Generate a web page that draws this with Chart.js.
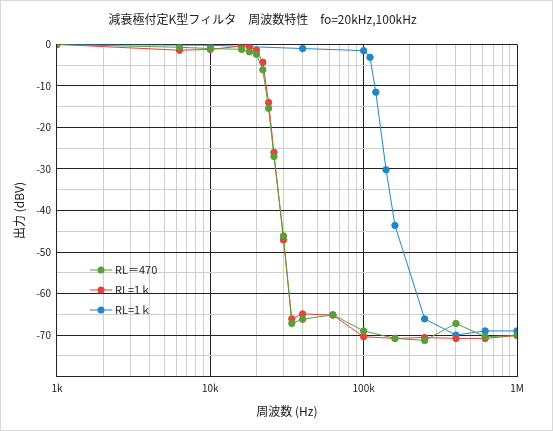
<!DOCTYPE html>
<html><head><meta charset="utf-8">
<script src="https://cdn.jsdelivr.net/npm/chart.js@4"></script>
<style>body{margin:0;background:#fff}canvas{display:block}</style>
</head><body><canvas id="c" width="553" height="431"></canvas>
<script>
const freqG=[1000,6300,10000,16000,18000,20000,22000,24000,26000,30000,34000,40000,63000,100000,160000,250000,400000,620000,1000000];
const valG=[0,-0.7,-1,-1.2,-1.8,-2.4,-6.1,-15.4,-27,-46.1,-67.2,-66.2,-65.1,-69,-70.8,-71.3,-67.2,-70.4,-70.1];
const freqR=freqG;
const valR=[0,-1.4,-1.2,-0.4,-0.6,-1.4,-4.3,-14,-26,-47.1,-66.1,-64.9,-65.2,-70.4,-70.8,-70.6,-70.8,-70.8,-70.1];
const freqB=[1000,10000,40000,100000,110000,120000,140000,160000,250000,400000,620000,1000000];
const valB=[0,-0.2,-1,-1.5,-3.1,-11.5,-30.2,-43.6,-66.1,-70,-69,-69];
const labels=['RL＝470','RL=1ｋ','RL=1ｋ'];
const colors=['#5a9e3a','#e8403a','#1f86c8'];
const xTickLabels={1000:'1k',10000:'10k',100000:'100k',1000000:'1M'};
const mk=(f,v)=>f.map((x,i)=>({x:x,y:v[i]}));
const F='"Noto Sans CJK JP", "Noto Sans", sans-serif';
const legendPlugin={id:'lg',afterDraw(ch){const c=ch.ctx;c.save();
 c.strokeStyle='#d9d9d9';c.lineWidth=1;c.strokeRect(0.5,0.5,552,430);
 c.font='11px '+F;c.textBaseline='middle';
 ch.data.datasets.forEach((d,i)=>{const y=270+i*20;c.strokeStyle=d.borderColor;c.lineWidth=1;c.beginPath();c.moveTo(90,y);c.lineTo(112,y);c.stroke();
 c.fillStyle=d.borderColor;c.beginPath();c.arc(101,y,3.5,0,Math.PI*2);c.fill();c.fillStyle='#222';c.fillText(d.label,115,y);});c.restore();}};
new Chart(document.getElementById('c'),{type:'line',
data:{datasets:[0,1,2].map(i=>({label:labels[i],data:[mk(freqG,valG),mk(freqR,valR),mk(freqB,valB)][i],borderColor:colors[i],backgroundColor:colors[i],borderWidth:1,pointRadius:3.2,pointHoverRadius:3.2,tension:0}))},
options:{responsive:false,animation:false,devicePixelRatio:1,
layout:{padding:{top:4,right:36,left:8,bottom:8}},
plugins:{legend:{display:false},tooltip:{enabled:false},
 title:{display:true,text:'減衰極付定K型フィルタ　周波数特性　fo=20kHz,100kHz',font:{family:F,size:12,weight:'normal'},color:'#222',padding:{top:8,bottom:18}}},
scales:{
 x:{type:'logarithmic',min:1000,max:1000000,
  afterBuildTicks(ax){const t=[];for(let e=3;e<6;e++)for(let m=1;m<10;m++)t.push({value:m*Math.pow(10,e)});t.push({value:1e6});ax.ticks=t;},
  ticks:{autoSkip:false,maxRotation:0,callback:v=>xTickLabels[v]||'',font:{family:F,size:10},color:'#222',padding:6},
  grid:{color:c=>xTickLabels[c.tick&&c.tick.value]?'#222':'#cfcfcf',drawTicks:false},border:{color:'#222'},
  title:{display:true,text:'周波数 (Hz)',font:{family:F,size:12},color:'#222',padding:{top:4}}},
 y:{min:-80,max:0,ticks:{stepSize:5,autoSkip:false,callback:v=>(v%10===0&&v>-80)?v:'',font:{family:F,size:10},color:'#222',padding:6},
  grid:{color:c=>(c.tick.value%10===0)?'#222':'#cfcfcf',drawTicks:false},border:{color:'#222'},
  title:{display:true,text:'出力 (dBV)',font:{family:F,size:12},color:'#222'}}
}},plugins:[legendPlugin]});
</script>
</body></html>
